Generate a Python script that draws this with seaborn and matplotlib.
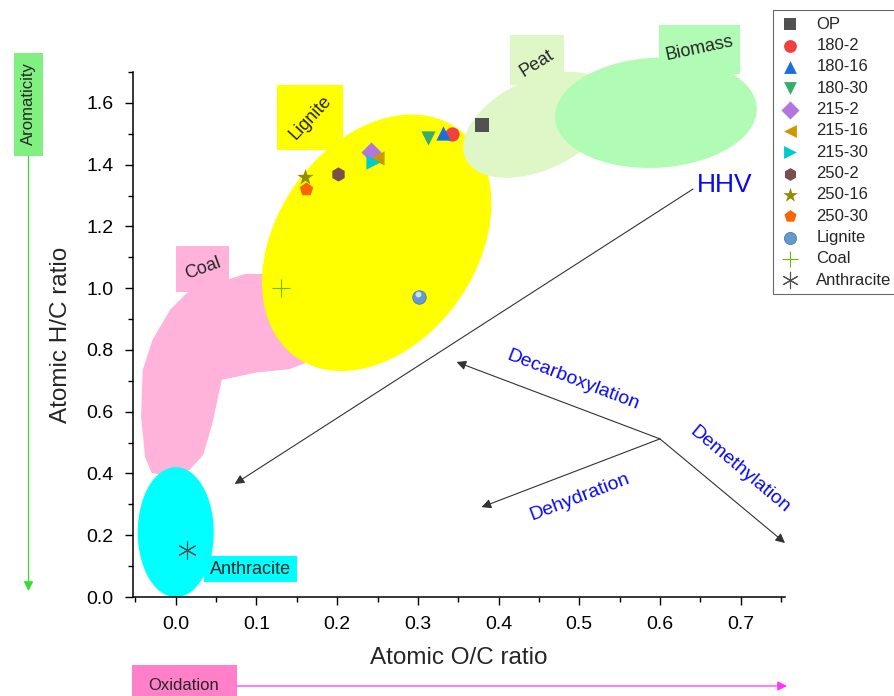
import numpy as np
import pandas as pd
import matplotlib
matplotlib.use("Agg")
import matplotlib.pyplot as plt
from matplotlib.patches import Rectangle
import seaborn as sns

# van Krevelen data (atomic ratios)
samples = ['OP', '180-2', '180-16', '180-30', '215-2', '215-16', '215-30',
           '250-2', '250-16', '250-30']
oc_ratio = [0.380, 0.342, 0.331, 0.312, 0.242, 0.249, 0.244, 0.201, 0.160, 0.161]
hc_ratio = [1.530, 1.500, 1.503, 1.485, 1.440, 1.420, 1.410, 1.370, 1.360, 1.320]

ref_names = ['Lignite', 'Coal', 'Anthracite']
ref_oc = [0.302, 0.130, 0.014]
ref_hc = [0.970, 1.000, 0.152]

sample_markers = ['s', 'o', '^', 'v', 'D', '<', '>', 'h', '*', 'p']
sample_colors = ['#515151', '#F14040', '#1A6FDF', '#37AD6B', '#B177DE',
                 '#CC9900', '#00CBCC', '#7D4E4E', '#8E8E00', '#FB6501']

# coal region outline (O/C, H/C)
coal_oc = [0.014, -0.007, -0.029, -0.041, -0.043, -0.038, -0.030, -0.007, 0.017,
           0.034, 0.045, 0.057, 0.098, 0.141, 0.164, 0.182, 0.191, 0.141, 0.108,
           0.086, 0.067, 0.036]
coal_hc = [0.985, 0.930, 0.832, 0.735, 0.583, 0.453, 0.402, 0.389, 0.411, 0.460,
           0.557, 0.703, 0.726, 0.738, 0.761, 0.842, 0.962, 1.027, 1.046, 1.046,
           1.030, 1.011]

sns.set_style('ticks')
plt.rcParams['font.family'] = ['Liberation Sans', 'DejaVu Sans']

fig = plt.figure(figsize=(8.95, 6.96), dpi=100)
ax = fig.add_axes([133 / 895, 99 / 696, 652 / 895, 525 / 696])
xlim = (-0.053, 0.755)
ylim = (0.0, 1.70)
ax.set_xlim(*xlim)
ax.set_ylim(*ylim)

kx = 652 / (xlim[1] - xlim[0])
ky = 525 / (ylim[1] - ylim[0])


def blob(cx, cy, a, b, ang, color, z):
    t = np.linspace(0, 2 * np.pi, 240)
    r = np.deg2rad(ang)
    dx = a * np.cos(t) * np.cos(r) - b * np.sin(t) * np.sin(r)
    dy = a * np.cos(t) * np.sin(r) + b * np.sin(t) * np.cos(r)
    ax.fill(cx + dx / kx, cy + dy / ky, color=color, lw=0, zorder=z, clip_on=False)


def tag(x0, x1, y0, y1, color, text, tx, ty, rot, z):
    ax.add_patch(Rectangle((x0, y0), x1 - x0, y1 - y0, color=color, lw=0,
                           zorder=z, clip_on=False))
    ax.text(tx, ty, text, rotation=rot, ha='center', va='center', fontsize=13,
            zorder=z + 0.1, clip_on=False, rotation_mode='anchor')


# regions
ax.fill(coal_oc, coal_hc, color='#FFB3DA', lw=0, zorder=1)
blob(0.249, 1.147, 140, 100, 55, '#FFFF00', 2)
blob(0.0, 0.210, 38, 65, 0, '#00FFFF', 2)
blob(0.449, 1.529, 80, 45, 25, '#DFF7C6', 3)
blob(0.595, 1.568, 101, 55, 3, '#B0FCB4', 4)

tag(0.126, 0.207, 1.448, 1.658, '#FFFF00', 'Lignite', 0.167, 1.553, 47, 2)
tag(0.414, 0.481, 1.658, 1.820, '#DFF7C6', 'Peat', 0.447, 1.728, 32, 3)
tag(0.599, 0.699, 1.694, 1.853, '#B0FCB4', 'Biomass', 0.649, 1.776, 12, 4)
tag(0.000, 0.066, 0.988, 1.137, '#FFB3DA', 'Coal', 0.034, 1.064, 20, 2)
tag(0.035, 0.150, 0.049, 0.133, '#00FFFF', 'Anthracite', 0.093, 0.089, 0, 2)

# reaction pathways
arrow = dict(arrowstyle='-|>', color='#333333', lw=0.8, mutation_scale=14,
             shrinkA=0, shrinkB=0)
ax.annotate('', xy=(0.073, 0.366), xytext=(0.641, 1.321), arrowprops=arrow,
            zorder=6)
ax.text(0.646, 1.334, 'HHV', color='#0A0AF0', fontsize=19, ha='left',
        va='center', zorder=6)
jx, jy = 0.600, 0.512
for hx, hy in [(0.348, 0.761), (0.379, 0.291), (0.755, 0.175)]:
    ax.annotate('', xy=(hx, hy), xytext=(jx, jy), arrowprops=arrow,
                annotation_clip=False, zorder=6)
ax.text(0.492, 0.703, 'Decarboxylation', color='#0A0AF0', fontsize=14,
        rotation=-21, ha='center', va='center', zorder=6)
ax.text(0.501, 0.324, 'Dehydration', color='#0A0AF0', fontsize=14,
        rotation=21, ha='center', va='center', zorder=6)
ax.text(0.699, 0.411, 'Demethylation', color='#0A0AF0', fontsize=14,
        rotation=-40, ha='center', va='center', zorder=6)

# points
df = pd.DataFrame({'sample': samples, 'oc': oc_ratio, 'hc': hc_ratio})
for i, row in df.iterrows():
    sz = 150 if sample_markers[i] == '*' else 105
    sns.scatterplot(x=[row['oc']], y=[row['hc']], marker=sample_markers[i],
                    color=sample_colors[i], s=sz, linewidth=0, label=row['sample'],
                    ax=ax, zorder=7)
sns.scatterplot(x=[ref_oc[0]], y=[ref_hc[0]], marker='o', color='#6699CC', s=95,
                edgecolor='#4F7FB8', linewidth=0.6, label=ref_names[0], ax=ax,
                zorder=7)
ax.scatter([ref_oc[0] - 0.002], [ref_hc[0] + 0.010], marker='o', color='#CFE0F2',
           s=18, linewidth=0, zorder=8)
ax.scatter([ref_oc[1]], [ref_hc[1]], marker='+', color='#6FB802', s=150,
           linewidths=0.8, label=ref_names[1], zorder=7)
ax.scatter([ref_oc[2]], [ref_hc[2]], marker=(6, 2, 0), color='#515151', s=170,
           linewidths=0.8, label=ref_names[2], zorder=7)

# axes styling
ax.set_xticks(np.arange(0, 0.71, 0.1))
ax.set_yticks(np.arange(0, 1.61, 0.2))
ax.set_xticks(np.arange(-0.05, 0.76, 0.05), minor=True)
ax.set_yticks(np.arange(0, 1.71, 0.1), minor=True)
ax.xaxis.set_major_formatter(matplotlib.ticker.FormatStrFormatter('%.1f'))
ax.yaxis.set_major_formatter(matplotlib.ticker.FormatStrFormatter('%.1f'))
ax.tick_params(which='major', length=6, width=1, direction='out', labelsize=14,
               color='black', labelcolor='black', pad=8)
ax.tick_params(which='minor', length=3.5, width=1, direction='out', color='black')
for s in ['top', 'right']:
    ax.spines[s].set_visible(False)
for s in ['left', 'bottom']:
    ax.spines[s].set_color('black')
    ax.spines[s].set_linewidth(1.1)
ax.set_xlabel('Atomic O/C ratio', fontsize=17.5, labelpad=10)
ax.set_ylabel('Atomic H/C ratio', fontsize=17.5, labelpad=10)

# side indicators
fig.add_artist(Rectangle((14 / 895, 1 - 156 / 696), 29 / 895, 103 / 696,
                         color='#80F080', lw=0, transform=fig.transFigure))
fig.text(28.5 / 895, 1 - 104 / 696, 'Aromaticity', rotation=90, ha='center',
         va='center', fontsize=12)
fig.add_artist(matplotlib.patches.FancyArrowPatch(
    (28.5 / 895, 1 - 156 / 696), (28.5 / 895, 1 - 591 / 696),
    transform=fig.transFigure, arrowstyle='-|>', color='#33DD33', lw=0.9,
    mutation_scale=14, shrinkA=0, shrinkB=0))
fig.add_artist(Rectangle((132 / 895, 0), 105 / 895, 31 / 696,
                         color='#FF80C8', lw=0, transform=fig.transFigure))
fig.text(184 / 895, 10 / 696, 'Oxidation', ha='center', va='center', fontsize=12)
fig.add_artist(matplotlib.patches.FancyArrowPatch(
    (237 / 895, 10 / 696), (787 / 895, 10 / 696),
    transform=fig.transFigure, arrowstyle='-|>', color='#FF33FF', lw=0.9,
    mutation_scale=14, shrinkA=0, shrinkB=0))

leg = ax.legend(loc='upper left', bbox_to_anchor=(773 / 895, 1 - 10 / 696),
                bbox_transform=fig.transFigure, frameon=True, fancybox=False,
                edgecolor='#444444', fontsize=12, labelspacing=0.38,
                handlelength=1.2, handletextpad=1.0, borderpad=0.4,
                borderaxespad=0, markerscale=0.9)
leg.get_frame().set_linewidth(0.8)

fig.savefig('out.png', dpi=100)
